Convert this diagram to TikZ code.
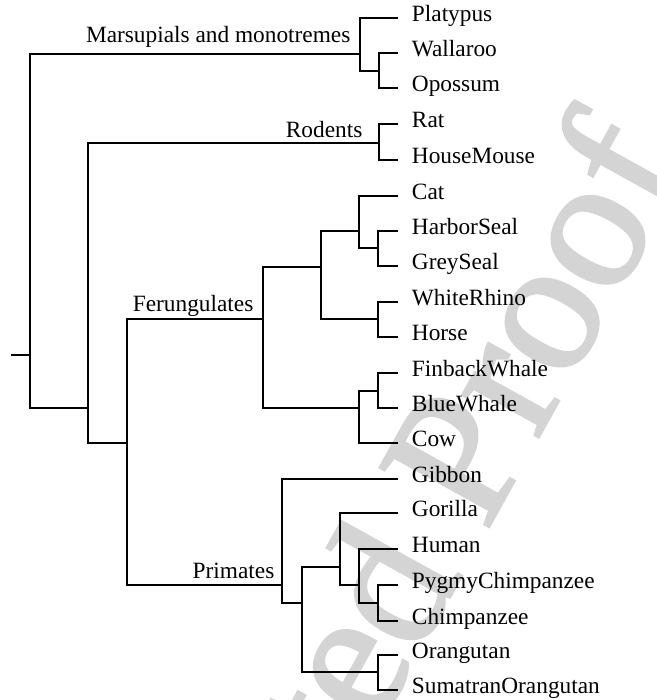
\documentclass[tikz,border=0pt]{standalone}
\usepackage{fontspec}
\setmainfont{Liberation Serif}
\newfontfamily\wmfont{Liberation Serif}[FakeBold=1.5]
\usepackage{tikz}
\definecolor{wmgray}{RGB}{212,212,212}
\tikzset{every picture/.style={line width=0.9pt}}
\tikzset{
  leaf/.style={anchor=west, inner xsep=10pt, inner ysep=0pt, text height=1ex, text depth=0pt, font=\fontsize{17.5}{20}\selectfont},
  clade/.style={anchor=base east, inner sep=0pt, font=\fontsize{17.5}{20}\selectfont},
  wmark/.style={anchor=base east, inner sep=0pt, rotate=61, text=wmgray, font=\wmfont\fontsize{142}{145}\selectfont},
}

\begin{document}
\begin{tikzpicture}[x=0.75pt,y=0.75pt,yscale=-1,xscale=1]
\useasboundingbox (0,0) rectangle (657,700);

% Watermark
\begin{scope}
\clip (0,0) rectangle (657,700);
\node [wmark] (wm) at (690,164) {Uncorrected Proof};
\end{scope}

% Internal nodes
\coordinate (stub) at (11,355);
\coordinate (root) at (30,355);
\coordinate (marsup) at (360,54);
\coordinate (wallopo) at (379,71);
\coordinate (n1) at (88,408);
\coordinate (rodents) at (379,143);
\coordinate (n2) at (127,443);
\coordinate (ferung) at (263,319);
\coordinate (n3) at (321,267);
\coordinate (n5) at (359,231);
\coordinate (seals) at (378,248);
\coordinate (rhinos) at (378,319);
\coordinate (n4) at (359,408);
\coordinate (whales) at (378,391);
\coordinate (primates) at (282,585);
\coordinate (n6) at (302,603);
\coordinate (n7) at (340,567);
\coordinate (n8) at (359,585);
\coordinate (chimps) at (378,603);
\coordinate (orangs) at (378,672);

% Leaves
\foreach \nm/\txt/\y in {platypus/Platypus/18, wallaroo/Wallaroo/53, opossum/Opossum/88,
    rat/Rat/124, housemouse/HouseMouse/160, cat/Cat/196, harborseal/HarborSeal/231,
    greyseal/GreySeal/266, whiterhino/WhiteRhino/302, horse/Horse/337,
    finback/FinbackWhale/373, bluewhale/BlueWhale/408, cow/Cow/443, gibbon/Gibbon/479,
    gorilla/Gorilla/513, human/Human/549, pygmy/PygmyChimpanzee/585,
    chimp/Chimpanzee/621, orangutan/Orangutan/655, sumatran/SumatranOrangutan/690}
  \node [leaf] (\nm) at (398,\y) {\txt};

% Text Node
\node [clade] (lblmarsup) at (351,42) {Marsupials and monotremes};
% Text Node
\node [clade] (lblrodents) at (363,137) {Rodents};
% Text Node
\node [clade] (lblferung) at (254,311) {Ferungulates};
% Text Node
\node [clade] (lblprimates) at (275,578) {Primates};

% Branches
\draw (stub) -- (root);
\foreach \p/\c in {root/marsup, root/n1, marsup/platypus, marsup/wallopo,
    wallopo/wallaroo, wallopo/opossum, n1/rodents, n1/n2, rodents/rat, rodents/housemouse,
    n2/ferung, n2/primates, ferung/n3, ferung/n4, n3/n5, n3/rhinos, n5/cat, n5/seals,
    seals/harborseal, seals/greyseal, rhinos/whiterhino, rhinos/horse, n4/whales, n4/cow,
    whales/finback, whales/bluewhale, primates/gibbon, primates/n6, n6/n7, n6/orangs,
    n7/gorilla, n7/n8, n8/human, n8/chimps, chimps/pygmy, chimps/chimp,
    orangs/orangutan, orangs/sumatran}
  \draw (\p) |- (\c);
\end{tikzpicture}
\end{document}
